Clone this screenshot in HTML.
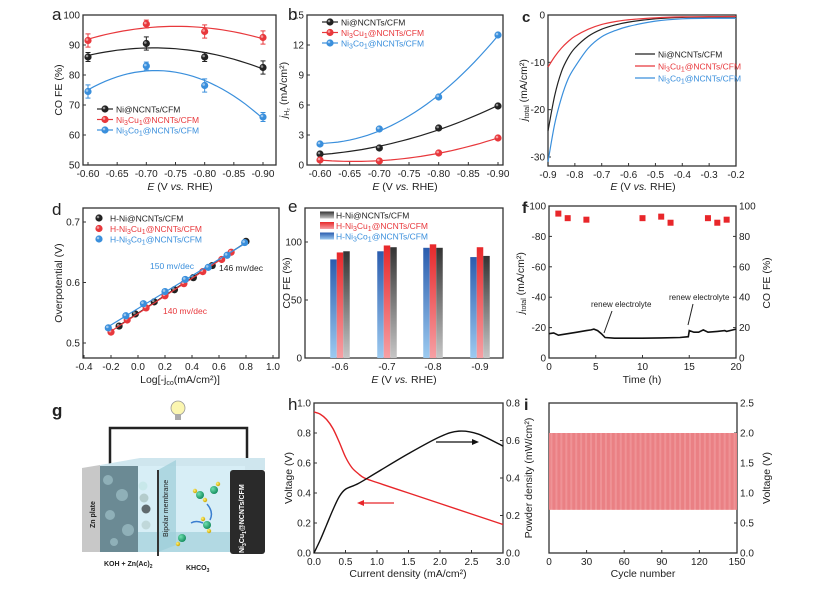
<!DOCTYPE html>
<html><head><meta charset="utf-8">
<style>
html,body{margin:0;padding:0;background:#fff;}
svg{display:block;font-family:"Liberation Sans",Arial,sans-serif;}
text{fill:#222;}
</style></head>
<body>
<svg id="fig" width="819" height="589" viewBox="0 0 819 589" xmlns="http://www.w3.org/2000/svg">
<defs>
<linearGradient id="gBlue" x1="0" y1="0" x2="0" y2="1"><stop offset="0" stop-color="#2a5cae"/><stop offset="1" stop-color="#9ccaf0"/></linearGradient>
<linearGradient id="gRed" x1="0" y1="0" x2="0" y2="1"><stop offset="0" stop-color="#e8282a"/><stop offset="1" stop-color="#f6a0a4"/></linearGradient>
<linearGradient id="gGray" x1="0" y1="0" x2="0" y2="1"><stop offset="0" stop-color="#333"/><stop offset="1" stop-color="#c6c6c6"/></linearGradient>
<radialGradient id="ballG" cx="0.35" cy="0.35" r="0.7"><stop offset="0" stop-color="#6fe0b0"/><stop offset="1" stop-color="#118a5a"/></radialGradient>
<radialGradient id="ballY" cx="0.35" cy="0.35" r="0.7"><stop offset="0" stop-color="#fff27a"/><stop offset="1" stop-color="#c9a400"/></radialGradient>
</defs>
<!-- schematic g -->
<g>
<text x="52" y="416" font-size="17" font-weight="bold">g</text>
<polyline points="110,466 110,428 247,428 247,470" fill="none" stroke="#222" stroke-width="2.5"/>
<g>
<circle cx="178" cy="408" r="7" fill="#fbf6b0" stroke="#999" stroke-width="0.8"/>
<rect x="175" y="414" width="6" height="6" fill="#aaa"/>
</g>
<polygon points="100,465 140,458 265,458 265,470 100,470" fill="#cfe6ee"/>
<rect x="100" y="466" width="145" height="86" fill="#d7eef6"/>
<polygon points="100,532 245,532 265,528 265,552 100,552" fill="#a9d3df" opacity="0.8"/>
<polygon points="82,468 100,465 100,552 82,552" fill="#c8c8c8"/>
<text transform="translate(95,528) rotate(-90)" font-size="7" font-weight="bold" fill="#333">Zn plate</text>
<rect x="100" y="466" width="38" height="86" fill="#6b8a94"/>
<g fill="#8fb0b8"><circle cx="108" cy="480" r="5"/><circle cx="122" cy="495" r="6"/><circle cx="110" cy="515" r="5"/><circle cx="128" cy="530" r="6"/><circle cx="114" cy="542" r="4"/></g>
<g><circle cx="143" cy="486" r="4.5" fill="#c8e8ea"/><circle cx="144" cy="498" r="4.5" fill="#b4cccc"/><circle cx="146" cy="509" r="4.5" fill="#606a6e"/><circle cx="146" cy="525" r="4.5" fill="#c0d8da"/></g>
<polygon points="158,470 176,460 176,545 158,552" fill="#9ccdd8" opacity="0.7"/>
<line x1="158" y1="470" x2="158" y2="556" stroke="#333" stroke-width="2"/>
<text transform="translate(168,537) rotate(-90)" font-size="7" fill="#333">Bipolar membrane</text>
<g>
<circle cx="200" cy="495" r="4" fill="url(#ballG)"/><circle cx="195" cy="491" r="2.2" fill="url(#ballY)"/><circle cx="205" cy="500" r="2.2" fill="url(#ballY)"/>
<circle cx="214" cy="490" r="4" fill="url(#ballG)"/><circle cx="218" cy="484" r="2.2" fill="url(#ballY)"/>
<circle cx="207" cy="525" r="4" fill="url(#ballG)"/><circle cx="209" cy="531" r="2.2" fill="url(#ballY)"/><circle cx="203" cy="519" r="2.2" fill="url(#ballY)"/>
<circle cx="182" cy="538" r="4" fill="url(#ballG)"/><circle cx="178" cy="544" r="2.2" fill="url(#ballY)"/>
<path d="M207,504 Q214,512 210,520" fill="none" stroke="#3a7ed0" stroke-width="1.5"/>
<path d="M203,523 Q196,520 191,523" fill="none" stroke="#3a7ed0" stroke-width="1.5"/>
</g>
<rect x="230" y="470" width="35" height="84" fill="#2a2a2a" rx="3"/>
<text transform="translate(244,553) rotate(-90)" font-size="7" font-weight="bold" fill="#fff" style="fill:#fff">Ni<tspan font-size="5" dy="2">3</tspan><tspan dy="-2">Cu</tspan><tspan font-size="5" dy="2">1</tspan><tspan dy="-2">@NCNTs/CFM</tspan></text>
<text x="104" y="566" font-size="7" font-weight="bold">KOH + Zn(Ac)<tspan font-size="5" dy="2">2</tspan></text>
<text x="186" y="570" font-size="7" font-weight="bold">KHCO<tspan font-size="5" dy="2">3</tspan></text>
</g>
</svg>
<script>
const NS="http://www.w3.org/2000/svg";
const svg=document.getElementById('fig');
function mk(tag,attrs,parent){const e=document.createElementNS(NS,tag);for(const k in attrs)e.setAttribute(k,attrs[k]);(parent||svg).appendChild(e);return e;}
function txt(x,y,s,attrs,parent){const t=mk('text',Object.assign({x:x,y:y,'font-size':10},attrs||{}),parent);t.innerHTML=s;return t;}
function lin(d0,d1,r0,r1){return v=>r0+(v-d0)*(r1-r0)/(d1-d0);}
const sub=s=>`<tspan font-size="7" dy="2">${s}</tspan><tspan dy="-2">`;
const NiCu='Ni'+sub('3')+'Cu'+sub('1')+'@NCNTs/CFM</tspan></tspan>';
const NiCo='Ni'+sub('3')+'Co'+sub('1')+'@NCNTs/CFM</tspan></tspan>';
const colors={k:'#222',r:'#e8383c',b:'#3a8fdc'};

// ===== data =====
const aE=[-0.6,-0.7,-0.8,-0.9];
const aNi=[86,90.5,86,82.5], aNiErr=[1.5,2.2,1.5,2.2];
const aCu=[91.5,97,94.5,92.5], aCuErr=[2.2,1.3,2.2,2.2];
const aCo=[74.5,83,76.5,66], aCoErr=[2.2,1.3,2.2,1.5];
const bNi=[1.1,1.7,3.7,5.9], bCu=[0.5,0.4,1.2,2.7], bCo=[2.1,3.6,6.8,13];
const cE=[-0.9,-0.875,-0.85,-0.825,-0.8,-0.75,-0.7,-0.65,-0.6,-0.5,-0.4,-0.3,-0.2];
const cNi=[-24.5,-17,-12,-9,-7,-4.5,-3,-2.1,-1.5,-0.8,-0.5,-0.45,-0.4];
const cCu=[-11,-8.8,-7,-5.6,-4.5,-3,-2,-1.4,-1,-0.6,-0.4,-0.35,-0.3];
const cCo=[-31,-23,-17.5,-13.5,-11,-7,-4.6,-3.3,-2.4,-1.3,-0.8,-0.7,-0.7];
const dNiX=[-0.14,-0.02,0.12,0.27,0.41,0.55,0.8], dNiY=[0.528,0.548,0.568,0.588,0.608,0.628,0.668];
const dCuX=[-0.2,-0.08,0.06,0.2,0.34,0.48,0.62,0.69], dCuY=[0.518,0.538,0.558,0.578,0.598,0.618,0.638,0.650];
const dCoX=[-0.22,-0.09,0.04,0.2,0.35,0.52,0.66,0.79], dCoY=[0.525,0.545,0.565,0.585,0.605,0.625,0.645,0.666];
const eCats=['-0.6','-0.7','-0.8','-0.9'];
const eCo=[85,92,95,87], eCu=[91,97,98,95.5], eNi=[92,95.5,95,88];
const fT=[0,0.5,1,1.5,2,3,4,4.5,4.8,5.2,5.6,6,7,8,10,12,14,14.9,15,15.5,16,16.5,17,18,18.8,19,20];
const fJ=[-16,-16.5,-15,-15.5,-16,-17,-18,-18.5,-19,-18,-16,-13.5,-13,-13,-13,-13.2,-13.5,-14,-18,-17,-17,-18.5,-17,-17.5,-18,-17.5,-19];
const fFeT=[1,2,4,10,12,13,17,18,19], fFe=[95,92,91,92,93,89,92,89,91];
const hI=[0,0.1,0.2,0.3,0.4,0.5,0.6,0.7,0.8,1.0,1.5,2.0,2.5,3.0];
const hV=[0.94,0.925,0.89,0.83,0.74,0.64,0.57,0.53,0.5,0.47,0.40,0.33,0.26,0.19];
const hPI=[0,0.1,0.2,0.3,0.4,0.5,0.7,1.0,1.5,2.0,2.3,2.6,3.0];
const hP=[0,0.07,0.15,0.23,0.3,0.34,0.37,0.43,0.53,0.62,0.65,0.635,0.57];
const iCycles=150, iVlow=[0.72], iVhigh=[2.0];

// ===== axis helper =====
function frame(name,x0,y0,x1,y1){mk('rect',{x:x0,y:y0,width:x1-x0,height:y1-y0,fill:'none',stroke:'#333','stroke-width':1.3,});}
function xTicks(name,sx,vals,labels,y1,y0){const g=mk('g',{});vals.forEach((v,i)=>{mk('line',{x1:sx(v),x2:sx(v),y1:y1,y2:y1-3,stroke:'#333'},g);txt(sx(v),y1+12,labels[i],{'text-anchor':'middle'},g);});}
function yTicks(name,sy,vals,labels,x,side){const g=mk('g',{});vals.forEach((v,i)=>{mk('line',{x1:x,x2:x+(side>0?-3:3),y1:sy(v),y2:sy(v),stroke:'#333'},g);txt(side>0?x+3:x-3,sy(v)+3.5,labels[i],{'text-anchor':side>0?'start':'end'},g);});}
function path(pts,attrs){return mk('path',Object.assign({d:'M'+pts.map(p=>p[0].toFixed(1)+','+p[1].toFixed(1)).join('L'),fill:'none','stroke-width':1.2},attrs));}
function smooth(pts,attrs){let d='M'+pts[0][0]+','+pts[0][1];for(let i=0;i<pts.length-1;i++){const p0=pts[i-1]||pts[i],p1=pts[i],p2=pts[i+1],p3=pts[i+2]||p2;d+=`C${p1[0]+(p2[0]-p0[0])/6},${p1[1]+(p2[1]-p0[1])/6} ${p2[0]-(p3[0]-p1[0])/6},${p2[1]-(p3[1]-p1[1])/6} ${p2[0]},${p2[1]}`;}return mk('path',Object.assign({d:d,fill:'none','stroke-width':1.2},attrs));}
function quadFit(xs,ys){let n=xs.length,S=[0,0,0,0,0],T=[0,0,0];for(let i=0;i<n;i++){let x=xs[i];for(let k=0;k<5;k++)S[k]+=Math.pow(x,k);for(let k=0;k<3;k++)T[k]+=ys[i]*Math.pow(x,k);}
const M=[[S[0],S[1],S[2],T[0]],[S[1],S[2],S[3],T[1]],[S[2],S[3],S[4],T[2]]];for(let i=0;i<3;i++){for(let j=i+1;j<3;j++){const f=M[j][i]/M[i][i];for(let k=i;k<4;k++)M[j][k]-=f*M[i][k];}}
const c=[0,0,0];for(let i=2;i>=0;i--){let s=M[i][3];for(let k=i+1;k<3;k++)s-=M[i][k]*c[k];c[i]=s/M[i][i];}return x=>c[0]+c[1]*x+c[2]*x*x;}
function linFit(xs,ys){const n=xs.length,mx=xs.reduce((a,b)=>a+b)/n,my=ys.reduce((a,b)=>a+b)/n;let num=0,den=0;xs.forEach((x,i)=>{num+=(x-mx)*(ys[i]-my);den+=(x-mx)*(x-mx);});const m=num/den;return x=>my+m*(x-mx);}
function ball(x,y,c,g){const d=mk('circle',{cx:x,cy:y,r:3.6,fill:c},g);mk('circle',{cx:x-1,cy:y-1,r:1.3,fill:'#fff',opacity:0.5},g);return d;}

// ===== panel a =====
(function(){
const sx=lin(-0.6,-0.9,88,263), sy=lin(50,100,165,15);
frame('panel-a',83,15,276,165);
txt(52,20,'a',{'font-size':17});
xTicks('panel-a',sx,[-0.6,-0.65,-0.7,-0.75,-0.8,-0.85,-0.9],['-0.60','-0.65','-0.70','-0.75','-0.80','-0.85','-0.90'],165);
yTicks('panel-a',sy,[50,60,70,80,90,100],['50','60','70','80','90','100'],83,-1);
txt(180,190,'<tspan font-style="italic">E</tspan> (V <tspan font-style="italic">vs.</tspan> RHE)',{'text-anchor':'middle','font-size':10.5,});
txt(0,0,'CO FE (%)',{transform:'translate(62,90) rotate(-90)','text-anchor':'middle','font-size':10.5,});
[[aNi,aNiErr,colors.k,'ni'],[aCu,aCuErr,colors.r,'nicu'],[aCo,aCoErr,colors.b,'nico']].forEach(([ys,es,c,n])=>{
 const g=mk('g',{});
 const f=quadFit(aE,ys);const pts=[];for(let e=-0.6;e>=-0.9001;e-=0.01)pts.push([sx(e),sy(f(e))]);
 const p=path(pts,{stroke:c});g.appendChild(p);
 ys.forEach((v,i)=>{mk('line',{x1:sx(aE[i]),x2:sx(aE[i]),y1:sy(v-es[i]),y2:sy(v+es[i]),stroke:c},g);[v-es[i],v+es[i]].forEach(w=>mk('line',{x1:sx(aE[i])-2.5,x2:sx(aE[i])+2.5,y1:sy(w),y2:sy(w),stroke:c},g));ball(sx(aE[i]),sy(v),c,g);});
});
const lg=mk('g',{});
[[colors.k,'Ni@NCNTs/CFM'],[colors.r,NiCu],[colors.b,NiCo]].forEach(([c,s],i)=>{const y=109+i*10.5;mk('line',{x1:97,x2:113,y1:y,y2:y,stroke:c,'stroke-width':1.2},lg);ball(105,y,c,lg);txt(116,y+3.5,s,{'font-size':8.5,style:'fill:'+c},lg);});
})();

// ===== panel b =====
(function(){
const sx=lin(-0.6,-0.9,320,498), sy=lin(0,15,165,15);
frame('panel-b',307,15,503,165);
txt(288,20,'b',{'font-size':17});
xTicks('panel-b',sx,[-0.6,-0.65,-0.7,-0.75,-0.8,-0.85,-0.9],['-0.60','-0.65','-0.70','-0.75','-0.80','-0.85','-0.90'],165);
yTicks('panel-b',sy,[0,3,6,9,12,15],['0','3','6','9','12','15'],307,-1);
txt(405,190,'<tspan font-style="italic">E</tspan> (V <tspan font-style="italic">vs.</tspan> RHE)',{'text-anchor':'middle','font-size':10.5,});
txt(0,0,'<tspan font-style="italic">j</tspan><tspan font-size="7" dy="2">H₂</tspan><tspan dy="-2"> (mA/cm²)</tspan>',{transform:'translate(287,90) rotate(-90)','text-anchor':'middle','font-size':10.5,});
[[bNi,colors.k,'ni'],[bCu,colors.r,'nicu'],[bCo,colors.b,'nico']].forEach(([ys,c,n])=>{
 const g=mk('g',{});
 const f=quadFit(aE,ys);const pts=[];for(let e=-0.6;e>=-0.9001;e-=0.01)pts.push([sx(e),sy(f(e))]);
 g.appendChild(path(pts,{stroke:c}));ys.forEach((v,i)=>ball(sx(aE[i]),sy(v),c,g));
});
const lg=mk('g',{});
[[colors.k,'Ni@NCNTs/CFM'],[colors.r,NiCu],[colors.b,NiCo]].forEach(([c,s],i)=>{const y=22+i*10.5;mk('line',{x1:322,x2:338,y1:y,y2:y,stroke:c,'stroke-width':1.2},lg);ball(330,y,c,lg);txt(341,y+3.5,s,{'font-size':8.5,style:'fill:'+c},lg);});
})();

// ===== panel c =====
(function(){
const sx=lin(-0.9,-0.2,548,736), sy=lin(0,-30,15,157);
frame('panel-c',548,15,736,166);
txt(522,22,'c',{'font-size':15,'font-weight':'bold'});
xTicks('panel-c',sx,[-0.9,-0.8,-0.7,-0.6,-0.5,-0.4,-0.3,-0.2],['-0.9','-0.8','-0.7','-0.6','-0.5','-0.4','-0.3','-0.2'],166);
yTicks('panel-c',sy,[0,-10,-20,-30],['0','-10','-20','-30'],548,-1);
txt(643,190,'<tspan font-style="italic">E</tspan> (V <tspan font-style="italic">vs.</tspan> RHE)',{'text-anchor':'middle','font-size':10.5,});
txt(0,0,'<tspan font-style="italic">j</tspan><tspan font-size="7" dy="2">total</tspan><tspan dy="-2"> (mA/cm²)</tspan>',{transform:'translate(527,90) rotate(-90)','text-anchor':'middle','font-size':10.5,});
[[cNi,colors.k,'ni'],[cCu,colors.r,'nicu'],[cCo,colors.b,'nico']].forEach(([ys,c,n])=>{const p=smooth(cE.map((e,i)=>[sx(e),sy(ys[i])]),{stroke:c});});
const lg=mk('g',{});
[[colors.k,'Ni@NCNTs/CFM'],[colors.r,NiCu],[colors.b,NiCo]].forEach(([c,s],i)=>{const y=54+i*12;mk('line',{x1:635,x2:655,y1:y,y2:y,stroke:c,'stroke-width':1.3},lg);txt(658,y+3.5,s,{'font-size':8.5,style:'fill:'+c},lg);});
})();

// ===== panel d =====
(function(){
const sx=lin(-0.4,1.0,84,273), sy=lin(0.5,0.7,343,222);
frame('panel-d',83,208,279,358);
txt(52,215,'d',{'font-size':17});
xTicks('panel-d',sx,[-0.4,-0.2,0,0.2,0.4,0.6,0.8,1.0],['-0.4','-0.2','0.0','0.2','0.4','0.6','0.8','1.0'],358);
yTicks('panel-d',sy,[0.5,0.6,0.7],['0.5','0.6','0.7'],83,-1);
txt(180,383,'Log[-j<tspan font-size="7" dy="2">co</tspan><tspan dy="-2">(mA/cm²)]</tspan>',{'text-anchor':'middle','font-size':10.5,});
txt(0,0,'Overpotential (V)',{transform:'translate(62,283) rotate(-90)','text-anchor':'middle','font-size':10.5,});
[[dNiX,dNiY,colors.k,'ni'],[dCuX,dCuY,colors.r,'nicu'],[dCoX,dCoY,colors.b,'nico']].forEach(([xs,ys,c,n])=>{
 const g=mk('g',{});const f=linFit(xs,ys);
 const a=Math.min(...xs),b=Math.max(...xs);g.appendChild(path([[sx(a),sy(f(a))],[sx(b),sy(f(b))]],{stroke:c}));
 xs.forEach((x,i)=>ball(sx(x),sy(ys[i]),c,g));
});
txt(150,269,'150 mv/dec',{'font-size':8.5,style:'fill:'+colors.b,});
txt(219,271,'146 mv/dec',{'font-size':8.5,});
txt(163,314,'140 mv/dec',{'font-size':8.5,style:'fill:'+colors.r,});
const lg=mk('g',{});
[[colors.k,'H-Ni@NCNTs/CFM'],[colors.r,'H-'+NiCu],[colors.b,'H-'+NiCo]].forEach(([c,s],i)=>{const y=218+i*10.5;ball(99,y,c,lg);txt(110,y+3.5,s,{'font-size':8.5,style:'fill:'+c},lg);});
})();

// ===== panel e =====
(function(){
const sy=lin(0,100,358,242), cx=[340,387,433,480], bw=6.5;
frame('panel-e',305,208,503,358);
txt(288,212,'e',{'font-size':17});
const xg=mk('g',{});
eCats.forEach((c,i)=>txt(cx[i],370,c,{'text-anchor':'middle'},xg));
yTicks('panel-e',sy,[0,50,100],['0','50','100'],305,-1);
txt(404,383,'<tspan font-style="italic">E</tspan> (V <tspan font-style="italic">vs.</tspan> RHE)',{'text-anchor':'middle','font-size':10.5,});
txt(0,0,'CO FE (%)',{transform:'translate(290,283) rotate(-90)','text-anchor':'middle','font-size':10.5,});
eCats.forEach((c,i)=>{[[eCo,'url(#gBlue)',-1,'nico'],[eCu,'url(#gRed)',0,'nicu'],[eNi,'url(#gGray)',1,'ni']].forEach(([ys,f,o,n])=>{const r=mk('rect',{x:cx[i]+o*bw-bw/2,y:sy(ys[i]),width:bw,height:sy(0)-sy(ys[i]),fill:f});});});
const lg=mk('g',{});
[['url(#gGray)',colors.k,'H-Ni@NCNTs/CFM'],['url(#gRed)',colors.r,'H-'+NiCu],['url(#gBlue)',colors.b,'H-'+NiCo]].forEach(([f,c,s],i)=>{const y=215+i*10.5;mk('rect',{x:320,y:y-3.5,width:14,height:7,fill:f},lg);txt(336,y+3.5,s,{'font-size':8.5,style:'fill:'+c},lg);});
})();

// ===== panel f =====
(function(){
const sx=lin(0,20,549,736), sy=lin(0,-100,358,206), sy2=lin(0,100,358,206);
frame('panel-f',549,206,736,358);
txt(522,213,'f',{'font-size':16,'font-weight':'bold'});
xTicks('panel-f',sx,[0,5,10,15,20],['0','5','10','15','20'],358);
yTicks('panel-f',sy,[0,-20,-40,-60,-80,-100],['0','-20','-40','-60','-80','-100'],549,-1);
yTicks('panel-f',sy2,[0,20,40,60,80,100],['0','20','40','60','80','100'],736,1);
txt(642,383,'Time (h)',{'text-anchor':'middle','font-size':10.5,});
txt(0,0,'<tspan font-style="italic">j</tspan><tspan font-size="7" dy="2">total</tspan><tspan dy="-2"> (mA/cm²)</tspan>',{transform:'translate(524,283) rotate(-90)','text-anchor':'middle','font-size':10.5,});
txt(0,0,'CO FE (%)',{transform:'translate(770,283) rotate(-90)','text-anchor':'middle','font-size':10.5,});
const p=path(fT.map((t,i)=>[sx(t),sy(fJ[i])]),{stroke:'#111','stroke-width':1.6});
const g=mk('g',{});
fFeT.forEach((t,i)=>mk('rect',{x:sx(t)-3,y:sy2(fFe[i])-3,width:6,height:6,fill:'#e8262a'},g));
txt(591,307,'renew electrolyte',{'font-size':8,});
mk('line',{x1:612,y1:311,x2:604,y2:333,stroke:'#222'});
txt(669,300,'renew electrolyte',{'font-size':8,});
mk('line',{x1:693,y1:304,x2:688,y2:325,stroke:'#222'});
})();

// ===== panel h =====
(function(){
const sx=lin(0,3,314,503), sy=lin(0,1,553,403), sy2=lin(0,0.8,553,403);
frame('panel-h',314,403,503,553);
txt(288,410,'h',{'font-size':17});
xTicks('panel-h',sx,[0,0.5,1,1.5,2,2.5,3],['0.0','0.5','1.0','1.5','2.0','2.5','3.0'],553);
yTicks('panel-h',sy,[0,0.2,0.4,0.6,0.8,1.0],['0.0','0.2','0.4','0.6','0.8','1.0'],314,-1);
yTicks('panel-h',sy2,[0,0.2,0.4,0.6,0.8],['0.0','0.2','0.4','0.6','0.8'],503,1);
txt(408,577,'Current  density (mA/cm²)',{'text-anchor':'middle','font-size':10.5,});
txt(0,0,'Voltage (V)',{transform:'translate(292,478) rotate(-90)','text-anchor':'middle','font-size':10.5,});
txt(0,0,'Powder density (mW/cm²)',{transform:'translate(532,478) rotate(-90)','text-anchor':'middle','font-size':10.5,});
const a=smooth(hI.map((x,i)=>[sx(x),sy(hV[i])]),{stroke:'#e8262a','stroke-width':1.4});
const b=smooth(hPI.map((x,i)=>[sx(x),sy2(hP[i])]),{stroke:'#111','stroke-width':1.4});
mk('line',{x1:394,y1:503,x2:360,y2:503,stroke:'#e8262a','stroke-width':1.2});mk('polygon',{points:'357,503 364,500 364,506',fill:'#e8262a'});
mk('line',{x1:436,y1:442,x2:475,y2:442,stroke:'#111','stroke-width':1.2});mk('polygon',{points:'479,442 472,439 472,445',fill:'#111'});
})();

// ===== panel i =====
(function(){
const sx=lin(0,150,549,737), sy=lin(0,2.5,553,403);
frame('panel-i',549,403,737,553);
txt(524,410,'i',{'font-size':16,'font-weight':'bold'});
xTicks('panel-i',sx,[0,30,60,90,120,150],['0','30','60','90','120','150'],553);
yTicks('panel-i',sy,[0,0.5,1,1.5,2,2.5],['0.0','0.5','1.0','1.5','2.0','2.5'],737,1);
txt(643,577,'Cycle number',{'text-anchor':'middle','font-size':10.5,});
txt(0,0,'Voltage (V)',{transform:'translate(770,478) rotate(-90)','text-anchor':'middle','font-size':10.5,});
const g=mk('g',{});
mk('rect',{x:sx(0),y:sy(iVhigh[0]),width:sx(iCycles)-sx(0),height:sy(iVlow[0])-sy(iVhigh[0]),fill:'#f4a6a8'},g);
for(let c=0;c<iCycles;c++){mk('line',{x1:sx(c+0.5),x2:sx(c+0.5),y1:sy(iVhigh[0]),y2:sy(iVlow[0]),stroke:'#e05a60','stroke-width':0.5},g);}
})();
</script>
</body></html>
